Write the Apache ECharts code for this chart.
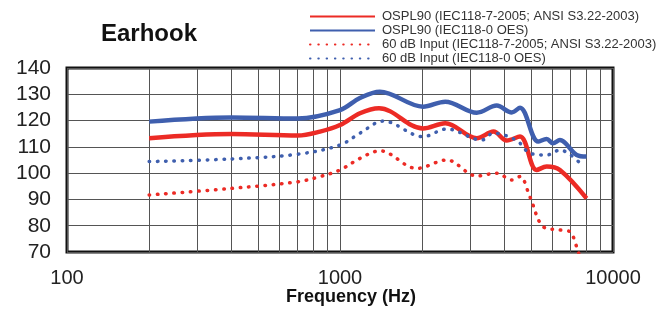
<!DOCTYPE html>
<html>
<head>
<meta charset="utf-8">
<script src="https://cdn.jsdelivr.net/npm/echarts@6/dist/echarts.min.js"></script>
<style>
html, body { margin: 0; padding: 0; background: #fff; }
#main { width: 669px; height: 311px; }
</style>
</head>
<body>
<div id="main"></div>
<script>
// frequency (Hz) / level (dB SPL) pairs
var osplIec = [[200,113.3],[400,114.9],[700,114.3],[845,115.8],[1000,118.3],[1183,122.8],[1390,124.7],[2014,117],[2430,119],[3170,113.3],[3650,115.8],[4080,112.4],[4565,113.9],[5250,101.2],[5715,102.5],[6390,101.2],[8000,90.4]];
var osplOes = [[200,119.6],[400,121.2],[700,120.8],[1000,124],[1183,128.6],[1400,131],[2014,125.3],[2430,127.2],[3170,123],[3750,125.7],[4258,123.1],[4565,124.9],[5320,112],[5715,113],[6025,111.4],[6390,112.6],[7360,106.9],[8000,106.3]];
var inIec = [[200,91.7],[400,94.2],[700,96.7],[845,98.7],[1000,101.2],[1183,105.6],[1400,108.5],[1910,101.8],[2460,105],[3170,98.9],[3750,100],[4258,97.4],[4565,98.7],[4962,91],[5555,79.6],[6390,78.4],[6955,77.7],[7460,70],[7800,64]];
var inOes = [[200,104.4],[400,105.4],[700,107.2],[1000,110.7],[1183,115.2],[1442,119.8],[2014,113.9],[2460,116.8],[3305,112.6],[3645,115.2],[4440,112.4],[4962,107.6],[5715,106.9],[6390,108.8],[7785,102.5]];

var seriesNames = ['OSPL90 (IEC118-7-2005; ANSI S3.22-2003)', 'OSPL90 (IEC118-0 OES)', '60 dB Input (IEC118-7-2005; ANSI S3.22-2003)', '60 dB Input (IEC118-0 OES)'];
var minorFreqs = [200,300,400,500,600,700,800,900,2000,3000,4000,5000,6000,7000,8000,9000];
var yTicks = [70, 80, 90, 100, 110, 120, 130, 140];

var red = '#ec2b25';
var blue = '#3f5fae';
var font = 'Liberation Sans, Arial';

function mkSeries(name, data, color, dotted) {
  return {
    name: name,
    type: 'line',
    data: data,
    smooth: 0.35,
    showSymbol: false,
    symbol: 'none',
    clip: true,
    lineStyle: dotted
      ? { color: color, width: 3.5, type: [0.5, 7.8], cap: 'round' }
      : { color: color, width: 4.5 },
    itemStyle: { color: color },
    z: 5
  };
}

var series = [
  mkSeries(seriesNames[0], osplIec, red, false),
  mkSeries(seriesNames[1], osplOes, blue, false),
  mkSeries(seriesNames[2], inIec, red, true),
  mkSeries(seriesNames[3], inOes, blue, true)
];
// minor vertical grid lines of the log axis
series.push({
  type: 'line',
  data: [],
  silent: true,
  z: 1,
  markLine: {
    silent: true,
    symbol: 'none',
    label: { show: false },
    lineStyle: { color: '#555', width: 1, type: 'solid' },
    data: minorFreqs.map(function (f) { return { xAxis: f }; })
  }
});

var myChart = echarts.init(document.getElementById('main'));
var option = {
  backgroundColor: '#fff',
  animation: false,
  title: {
    text: 'Earhook',
    left: 96,
    top: 17,
    textStyle: { fontFamily: font, fontSize: 24, fontWeight: 'bold', color: '#111' }
  },
  legend: {
    orient: 'vertical',
    left: 304,
    top: 5,
    itemWidth: 65,
    itemHeight: 10,
    itemGap: 1,
    data: seriesNames,
    itemStyle: { opacity: 0 },
    textStyle: { fontFamily: font, fontSize: 13, lineHeight: 13, color: '#333', padding: [0, 0, 0, 2] }
  },
  grid: {
    left: 67, right: 56, top: 68, bottom: 59,
    outerBoundsMode: 'none',
    containLabel: false,
    show: true,
    borderColor: '#111',
    borderWidth: 3,
    backgroundColor: 'transparent'
  },
  xAxis: {
    type: 'log',
    logBase: 10,
    min: 100,
    max: 10000,
    name: 'Frequency (Hz)',
    nameLocation: 'middle',
    nameGap: 36,
    nameMoveOverlap: false,
    nameTextStyle: { fontFamily: font, fontSize: 18, fontWeight: 'bold', color: '#111', padding: [0, 0, 0, 22] },
    axisLine: { show: false },
    axisTick: { show: false },
    axisLabel: {
      margin: 16,
      fontFamily: font, fontSize: 20, color: '#222',
      formatter: function (v) { return String(v); }
    },
    splitLine: { show: true, lineStyle: { color: '#555', width: 1 } }
  },
  yAxis: {
    type: 'value',
    min: yTicks[0],
    max: yTicks[yTicks.length - 1],
    interval: 10,
    axisLine: { show: false },
    axisTick: { show: false },
    axisLabel: { margin: 16, fontFamily: font, fontSize: 21, color: '#222' },
    splitLine: { show: true, lineStyle: { color: '#555', width: 1 } }
  },
  series: series
};
myChart.setOption(option);
</script>
</body>
</html>
